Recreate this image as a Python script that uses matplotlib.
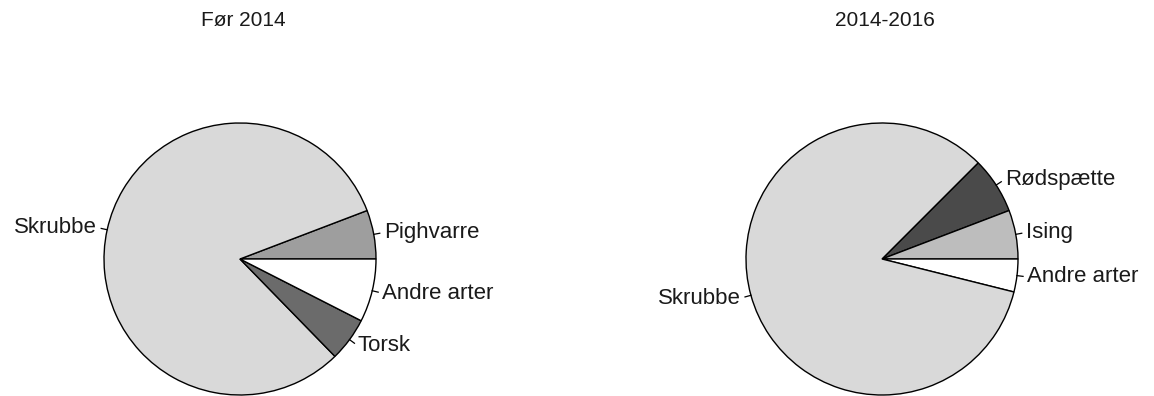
import numpy as np
import matplotlib
matplotlib.use("Agg")
import matplotlib.pyplot as plt

plt.rcParams['font.family'] = ['Liberation Sans', 'DejaVu Sans']

# data (percent shares)
titles = ['Før 2014', '2014-2016']

labels_before = ['Pighvarre', 'Skrubbe', 'Torsk', 'Andre arter']
values_before = [5.8, 81.5, 5.2, 7.5]
colors_before = ['#9e9e9e', '#d9d9d9', '#6b6b6b', '#ffffff']

labels_after = ['Rødspætte', 'Ising', 'Andre arter', 'Skrubbe']
values_after = [6.7, 5.8, 3.9, 83.6]
colors_after = ['#4a4a4a', '#bdbdbd', '#ffffff', '#d9d9d9']

W, H = 1154, 396
fig = plt.figure(figsize=(W / 100, H / 100), dpi=100)

R = 136
centers = [(240, 259), (882, 259)]


def draw_pie(cx, cy, values, labels, colors, startangle, title):
    ax = fig.add_axes([(cx - R) / W, (H - cy - R) / H, 2 * R / W, 2 * R / H])
    wedges, texts = ax.pie(values, labels=labels, colors=colors,
                           startangle=startangle, counterclock=(startangle == 0),
                           labeldistance=1.075, radius=1,
                           wedgeprops=dict(edgecolor='black', linewidth=1.0),
                           textprops=dict(fontsize=16, color='#1a1a1a'))
    for w in wedges:
        mid = np.deg2rad((w.theta1 + w.theta2) / 2)
        ax.plot([np.cos(mid) * 1.0, np.cos(mid) * 1.045],
                [np.sin(mid) * 1.0, np.sin(mid) * 1.045],
                color='black', linewidth=0.9, clip_on=False)
    ax.set_xlim(-1, 1)
    ax.set_ylim(-1, 1)
    ax.set_aspect('equal')
    ax.axis('off')
    fig.text(cx / W + 3 / W, 1 - 20 / H, title, ha='center', va='center',
             fontsize=15, color='#1a1a1a')


draw_pie(*centers[0], values_before, labels_before, colors_before, 0, titles[0])

# right pie: slices go clockwise from 45 degrees
draw_pie(*centers[1], values_after, labels_after, colors_after, 45, titles[1])

plt.savefig('out.png', dpi=100)
